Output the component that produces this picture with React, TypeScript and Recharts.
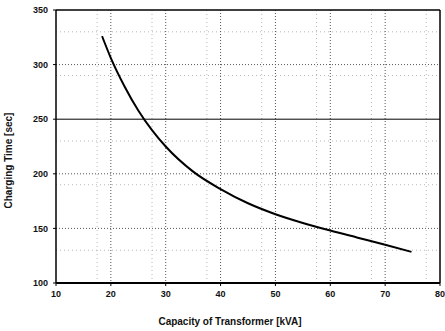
import React from 'react';
import { LineChart, Line, XAxis, YAxis, CartesianGrid, ReferenceLine } from 'recharts';

const capacity = [18.4, 20, 22.5, 25, 27.5, 30, 35, 40, 45, 50, 55, 60, 65, 70, 74.8];
const chargingTime = [326, 306, 280, 258, 240, 225, 202, 186, 173, 163, 155, 148, 141.5, 135, 128.5];

const xTicks = [10, 20, 30, 40, 50, 60, 70, 80];
const yTicks = [100, 150, 200, 250, 300, 350];
const minorY = [110, 130, 170, 190, 210, 230, 270, 290, 310, 330];
const minorX = [12.5, 15, 17.5, 22.5, 25, 27.5, 32.5, 35, 37.5, 42.5, 45, 47.5, 52.5, 55, 57.5, 62.5, 65, 67.5, 72.5, 75, 77.5];

const data = capacity.map((c, i) => ({ c, t: chargingTime[i] }));

const font = 'Arial, "Liberation Sans", sans-serif';

const App: React.FC = () => {
  return (
    <div style={{ position: 'absolute', left: 0, top: 0, width: 445, height: 331, background: '#fff' }}>
      <LineChart width={445} height={331} data={data} margin={{ top: 10, right: 5, bottom: 3, left: 0 }}>
        <CartesianGrid
          horizontalValues={minorY}
          verticalValues={minorX}
          stroke="#b8b8b8"
          strokeDasharray="1 3"
        />
        <CartesianGrid
          horizontalValues={[150, 200, 300]}
          verticalValues={[20, 30, 40, 50, 60, 70]}
          stroke="#555"
          strokeDasharray="1 2"
        />
        <XAxis
          dataKey="c"
          type="number"
          domain={[10, 80]}
          ticks={xTicks}
          height={45}
          tickSize={3}
          axisLine={{ stroke: '#000', strokeWidth: 2 }}
          tickLine={{ stroke: '#000' }}
          tick={{ fontSize: 9, fontWeight: 'bold', fill: '#111', fontFamily: font }}
          tickMargin={5}
          label={{ value: 'Capacity of Transformer [kVA]', position: 'insideBottom', offset: 3, dx: -18, style: { fontSize: 10, fontWeight: 'bold', fill: '#111', fontFamily: font } }}
        />
        <YAxis
          type="number"
          domain={[100, 350]}
          ticks={yTicks}
          width={56}
          tickSize={3}
          axisLine={{ stroke: '#000', strokeWidth: 1.5 }}
          tickLine={{ stroke: '#000' }}
          tick={{ fontSize: 9, fontWeight: 'bold', fill: '#111', fontFamily: font }}
          tickMargin={5}
          label={{ value: 'Charging Time [sec]', angle: -90, position: 'insideLeft', offset: 8, dy: 62, style: { fontSize: 10, fontWeight: 'bold', fill: '#111', fontFamily: font } }}
        />
        <ReferenceLine y={250} stroke="#000" strokeWidth={1} />
        <ReferenceLine y={350} stroke="#000" strokeWidth={1.5} />
        <ReferenceLine x={80} stroke="#000" strokeWidth={1.5} />
        <Line
          dataKey="t"
          type="monotone"
          stroke="#000"
          strokeWidth={2}
          dot={false}
          isAnimationActive={false}
        />
      </LineChart>
    </div>
  );
};

export default App;
